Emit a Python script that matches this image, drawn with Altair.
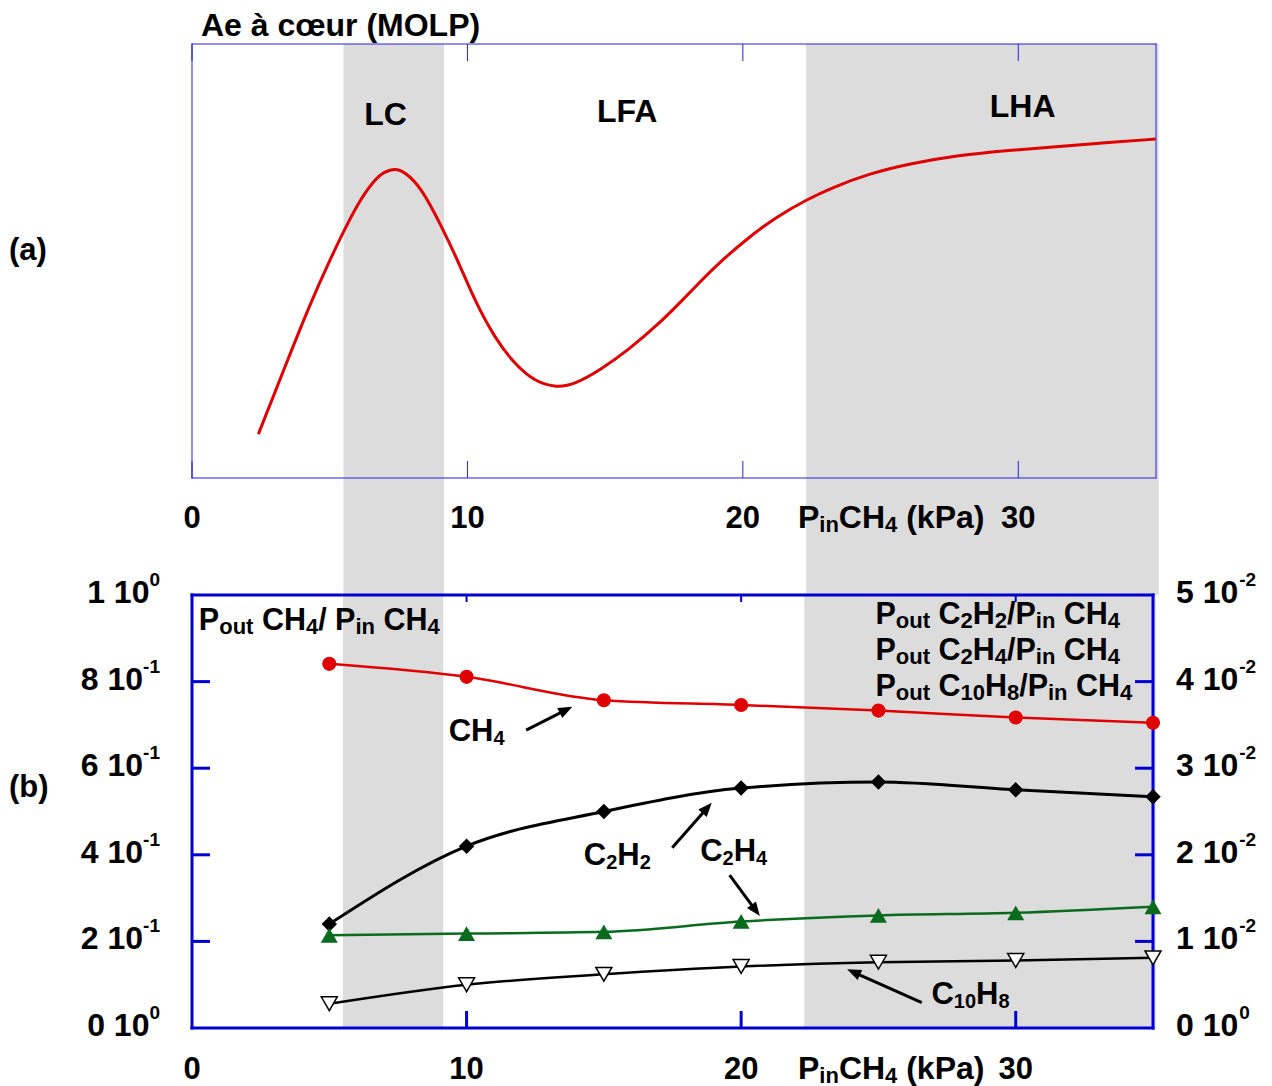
import math
import altair as alt
import pandas as pd

FONT = "Liberation Sans"
RED = "#e00000"
GREEN = "#0a6a1e"
BLUE = "#0000d0"
BLUE_THIN = "#2020e0"
GRAY = "#dcdcdc"

# ---------------- data: panel (a) ----------------
AE_X = [2.41, 3.36, 4.33, 5.05, 5.48, 6.03, 6.63, 6.99, 7.36, 7.72, 8.33, 9.05, 9.66,
        10.27, 10.99, 11.72, 12.45, 13.24, 13.90, 14.87, 15.84, 16.93, 17.78, 18.51,
        19.17, 20.21, 21.17, 22.33, 23.24, 24.57, 26.03, 27.84, 29.66, 31.48, 33.30, 34.99]
AE_Y = [10.1, 25.4, 40.8, 50.8, 56.5, 63.4, 68.8, 70.6, 71.3, 70.6, 66.9, 58.1, 50.0,
        40.8, 32.3, 26.2, 22.2, 20.8, 21.6, 25.1, 29.5, 35.4, 40.8, 45.6,
        49.8, 55.4, 60.0, 64.2, 66.9, 70.1, 72.4, 74.4, 75.5, 76.4, 77.3, 78.1]
BAND_START = [5.5, 22.3]
BAND_END = [9.15, 35.1]
REGION_LABELS = ["LC", "LFA", "LHA"]
REGION_X = [7.03, 15.8, 30.16]
REGION_Y = [81.3, 82.1, 83.2]
TITLE = "Ae à cœur (MOLP)"

# ---------------- data: panel (b) ----------------
P_IN = [5, 10, 15, 20, 25, 30, 35]
CH4 = [0.841, 0.811, 0.757, 0.746, 0.733, 0.717, 0.705]
C2H2 = [0.0120, 0.0210, 0.0250, 0.0277, 0.0284, 0.0275, 0.0267]
C2H4 = [0.0107, 0.0109, 0.0111, 0.0123, 0.0130, 0.0133, 0.0140]
C10H8 = [0.0028, 0.0050, 0.0062, 0.0071, 0.0076, 0.0078, 0.0081]

X_TICKS = [0, 10, 20, 30]
X_TICK_LABELS = ["0", "10", "20", "30"]
LEFT_TICKS = [0.0, 0.2, 0.4, 0.6, 0.8, 1.0]
LEFT_MANT = ["0", "2", "4", "6", "8", "1"]
LEFT_EXP = ["0", "-1", "-1", "-1", "-1", "0"]
RIGHT_TICKS = [0.0, 0.01, 0.02, 0.03, 0.04, 0.05]
RIGHT_MANT = ["0", "1", "2", "3", "4", "5"]
RIGHT_EXP = ["0", "-2", "-2", "-2", "-2", "-2"]

XTITLE_SEGS = [("P", "n"), ("in", "s"), ("CH", "n"), ("4", "s"), (" (kPa)", "n")]
LEFT_LABEL_SEGS = [("P", "n"), ("out", "s"), (" CH", "n"), ("4", "s"), ("/ P", "n"),
                   ("in", "s"), (" CH", "n"), ("4", "s")]
RIGHT_LABEL_SEGS = [
    [("P", "n"), ("out", "s"), (" C", "n"), ("2", "s"), ("H", "n"), ("2", "s"),
     ("/P", "n"), ("in", "s"), (" CH", "n"), ("4", "s")],
    [("P", "n"), ("out", "s"), (" C", "n"), ("2", "s"), ("H", "n"), ("4", "s"),
     ("/P", "n"), ("in", "s"), (" CH", "n"), ("4", "s")],
    [("P", "n"), ("out", "s"), (" C", "n"), ("10", "s"), ("H", "n"), ("8", "s"),
     ("/P", "n"), ("in", "s"), (" CH", "n"), ("4", "s")],
]
RIGHT_LABEL_X = [24.89, 24.89, 24.89]
RIGHT_LABEL_Y = [0.933, 0.850, 0.767]
LEFT_LABEL_X = 0.25
LEFT_LABEL_Y = 0.919

ANNOT_SEGS = [
    [("CH", "n"), ("4", "s")],
    [("C", "n"), ("2", "s"), ("H", "n"), ("2", "s")],
    [("C", "n"), ("2", "s"), ("H", "n"), ("4", "s")],
    [("C", "n"), ("10", "s"), ("H", "n"), ("8", "s")],
]
ANNOT_X = [9.35, 14.27, 18.51, 26.93]
ANNOT_Y = [0.663, 0.376, 0.386, 0.0554]

ARROW_X1 = [12.17, 17.49, 19.58, 26.58]
ARROW_Y1 = [0.688, 0.4164, 0.3533, 0.0584]
ARROW_X2 = [13.85, 18.93, 20.68, 23.86]
ARROW_Y2 = [0.742, 0.5203, 0.2587, 0.1356]

# ---------------- layout ----------------
W_TOP, H_TOP = 964, 434
W_BOT, H_BOT = 961, 433
GAP = 117
ONE = pd.DataFrame({"d": [0]})

CW = {" ": 278, "(": 333, ")": 333, "/": 278, "-": 333, "P": 667, "C": 722, "H": 722,
      "o": 611, "u": 611, "t": 333, "i": 278, "n": 611, "k": 556, "a": 556}
for _d in "0123456789":
    CW[_d] = 556


def tw(s, size):
    return sum(CW[c] for c in s) * size / 1000.0


def rich(df, xenc, yenc, segs, main, sub, sub_dy=4, color="black"):
    layers = []
    off = 0.0
    for text, kind in segs:
        size = main if kind == "n" else sub
        lead = len(text) - len(text.lstrip(" "))
        trail = len(text) - len(text.rstrip(" "))
        off += lead * CW[" "] * size / 1000.0
        t = text.strip(" ")
        layers.append(
            alt.Chart(df).mark_text(
                text=t, align="left", baseline="alphabetic", dx=off,
                dy=(sub_dy if kind == "s" else 0), font=FONT, fontWeight="bold",
                fontSize=size, color=color,
            ).encode(x=xenc, y=yenc)
        )
        off += tw(t, size) + trail * CW[" "] * size / 1000.0
    return layers


def frame(W, H, color, sw):
    encs = [
        dict(x=alt.value(0), y=alt.value(0), y2=alt.value(H)),
        dict(x=alt.value(W), y=alt.value(0), y2=alt.value(H)),
        dict(x=alt.value(0), x2=alt.value(W), y=alt.value(0)),
        dict(x=alt.value(0), x2=alt.value(W), y=alt.value(H)),
    ]
    return [alt.Chart(ONE).mark_rule(color=color, strokeWidth=sw, strokeCap="square").encode(**e)
            for e in encs]


TXT = dict(font=FONT, fontWeight="bold", color="black")

# ---------------- panel (a) ----------------
xs_t = alt.Scale(domain=[0, 35], nice=False, zero=False)
ys_t = alt.Scale(domain=[0, 100], nice=False, zero=False)
XT = lambda f: alt.X(f, scale=xs_t, axis=None)
YT = lambda f: alt.Y(f, scale=ys_t, axis=None)

bands = pd.DataFrame({"x0": BAND_START, "x1": BAND_END})
xt_df = pd.DataFrame({"x": X_TICKS, "lab": X_TICK_LABELS})

tl = []
tl.append(alt.Chart(bands).mark_rect(color=GRAY).encode(
    x=XT("x0:Q"), x2="x1:Q", y=alt.value(0), y2=alt.value(H_TOP + GAP)))
tl += frame(W_TOP, H_TOP, BLUE_THIN, 1)
tl.append(alt.Chart(xt_df).mark_rule(color=BLUE_THIN, strokeWidth=1).encode(
    x=XT("x:Q"), y=alt.value(H_TOP - 17), y2=alt.value(H_TOP)))
tl.append(alt.Chart(xt_df).mark_rule(color=BLUE_THIN, strokeWidth=1).encode(
    x=XT("x:Q"), y=alt.value(0), y2=alt.value(17)))
tl.append(alt.Chart(pd.DataFrame({"x": AE_X, "y": AE_Y})).mark_line(
    color=RED, strokeWidth=3, interpolate="basis").encode(x=XT("x:Q"), y=YT("y:Q")))
tl.append(alt.Chart(pd.DataFrame({"x": REGION_X, "y": REGION_Y, "t": REGION_LABELS})).mark_text(
    fontSize=32, align="center", baseline="alphabetic", **TXT).encode(
    x=XT("x:Q"), y=YT("y:Q"), text="t:N"))
tl.append(alt.Chart(xt_df).mark_text(fontSize=31, align="center", baseline="alphabetic", **TXT).encode(
    x=XT("x:Q"), y=alt.value(H_TOP + 50), text="lab:N"))
tl += rich(pd.DataFrame({"x": [22.0]}), XT("x:Q"), alt.value(H_TOP + 50), XTITLE_SEGS, 32, 22)
tl.append(alt.Chart(ONE).mark_text(text=TITLE, fontSize=32, align="left", baseline="alphabetic", **TXT).encode(
    x=alt.value(9), y=alt.value(-8)))
tl.append(alt.Chart(ONE).mark_text(text="(a)", fontSize=31, align="left", baseline="middle", **TXT).encode(
    x=alt.value(-183), y=alt.value(207)))

top = alt.layer(*tl).properties(width=W_TOP, height=H_TOP)

# ---------------- panel (b) ----------------
xs_b = alt.Scale(domain=[0, 35], nice=False, zero=False)
yl = alt.Scale(domain=[0, 1], nice=False, zero=False)
yr = alt.Scale(domain=[0, 0.05], nice=False, zero=False)
XB = lambda f: alt.X(f, scale=xs_b, axis=None)
YL = lambda f: alt.Y(f, scale=yl, axis=None)
YR = lambda f: alt.Y(f, scale=yr, axis=None)

series = pd.DataFrame({"p": P_IN, "ch4": CH4, "c2h2": C2H2, "c2h4": C2H4, "c10h8": C10H8})

bl = []
bl.append(alt.Chart(bands).mark_rect(color=GRAY).encode(
    x=XB("x0:Q"), x2="x1:Q", y=alt.value(0), y2=alt.value(H_BOT)))
bl += frame(W_BOT, H_BOT, BLUE, 3)
bl.append(alt.Chart(pd.DataFrame({"v": LEFT_TICKS[1:-1]})).mark_rule(color=BLUE, strokeWidth=3).encode(
    x=alt.value(0), x2=alt.value(18), y=YL("v:Q")))
bl.append(alt.Chart(pd.DataFrame({"v": RIGHT_TICKS[1:-1]})).mark_rule(color=BLUE, strokeWidth=3).encode(
    x=alt.value(W_BOT - 18), x2=alt.value(W_BOT), y=YR("v:Q")))
xt_b = pd.DataFrame({"x": X_TICKS[1:]})
bl.append(alt.Chart(xt_b).mark_rule(color=BLUE, strokeWidth=3).encode(
    x=XB("x:Q"), y=alt.value(H_BOT - 17), y2=alt.value(H_BOT)))
bl.append(alt.Chart(xt_b).mark_rule(color=BLUE, strokeWidth=2).encode(
    x=XB("x:Q"), y=alt.value(0), y2=alt.value(7)))

# series lines
bl.append(alt.Chart(series).mark_line(color=RED, strokeWidth=2.5, interpolate="monotone").encode(
    x=XB("p:Q"), y=YL("ch4:Q")))
bl.append(alt.Chart(series).mark_line(color="black", strokeWidth=3, interpolate="monotone").encode(
    x=XB("p:Q"), y=YR("c2h2:Q")))
bl.append(alt.Chart(series).mark_line(color=GREEN, strokeWidth=2.5, interpolate="monotone").encode(
    x=XB("p:Q"), y=YR("c2h4:Q")))
bl.append(alt.Chart(series).mark_line(color="black", strokeWidth=2.5, interpolate="monotone").encode(
    x=XB("p:Q"), y=YR("c10h8:Q")))
# markers
bl.append(alt.Chart(series).mark_point(shape="circle", filled=True, size=200, color=RED, opacity=1).encode(
    x=XB("p:Q"), y=YL("ch4:Q")))
bl.append(alt.Chart(series).mark_point(shape="diamond", filled=True, size=240, color="black", opacity=1).encode(
    x=XB("p:Q"), y=YR("c2h2:Q")))
bl.append(alt.Chart(series).mark_point(shape="triangle-up", filled=True, size=290, color=GREEN, opacity=1).encode(
    x=XB("p:Q"), y=YR("c2h4:Q")))
bl.append(alt.Chart(series).mark_point(shape="triangle-down", filled=True, size=256, fill="white",
                                       stroke="black", strokeWidth=1.5, opacity=1).encode(
    x=XB("p:Q"), y=YR("c10h8:Q")))

# left tick labels
left_df = pd.DataFrame({"v": LEFT_TICKS, "m": [f"{m} 10" for m in LEFT_MANT], "e": LEFT_EXP})
for e in sorted(set(LEFT_EXP)):
    sub = left_df[left_df["e"] == e]
    bl.append(alt.Chart(sub).mark_text(fontSize=32, align="right", baseline="alphabetic", dy=8, **TXT).encode(
        x=alt.value(-32 - tw(e, 19)), y=YL("v:Q"), text="m:N"))
bl.append(alt.Chart(left_df).mark_text(fontSize=19, align="right", baseline="alphabetic", dy=-9, **TXT).encode(
    x=alt.value(-32), y=YL("v:Q"), text="e:N"))
# right tick labels
right_df = pd.DataFrame({"v": RIGHT_TICKS, "m": [f"{m} 10" for m in RIGHT_MANT], "e": RIGHT_EXP})
bl.append(alt.Chart(right_df).mark_text(fontSize=32, align="left", baseline="alphabetic", dy=8, **TXT).encode(
    x=alt.value(W_BOT + 23), y=YR("v:Q"), text="m:N"))
bl.append(alt.Chart(right_df).mark_text(fontSize=19, align="left", baseline="alphabetic", dy=-9, **TXT).encode(
    x=alt.value(W_BOT + 23 + tw("0 10", 32) + 1), y=YR("v:Q"), text="e:N"))
# x tick labels and title
bl.append(alt.Chart(xt_df).mark_text(fontSize=31, align="center", baseline="alphabetic", **TXT).encode(
    x=XB("x:Q"), y=alt.value(H_BOT + 51), text="lab:N"))
bl += rich(pd.DataFrame({"x": [22.07]}), XB("x:Q"), alt.value(H_BOT + 51), XTITLE_SEGS, 32, 22)
bl.append(alt.Chart(ONE).mark_text(text="(b)", fontSize=31, align="left", baseline="middle", **TXT).encode(
    x=alt.value(-183), y=alt.value(193)))

# series titles
bl += rich(pd.DataFrame({"x": [LEFT_LABEL_X], "y": [LEFT_LABEL_Y]}), XB("x:Q"), YL("y:Q"),
           LEFT_LABEL_SEGS, 30.5, 22)
for segs, lx, ly in zip(RIGHT_LABEL_SEGS, RIGHT_LABEL_X, RIGHT_LABEL_Y):
    bl += rich(pd.DataFrame({"x": [lx], "y": [ly]}), XB("x:Q"), YL("y:Q"), segs, 30.5, 22)
for segs, lx, ly in zip(ANNOT_SEGS, ANNOT_X, ANNOT_Y):
    bl += rich(pd.DataFrame({"x": [lx], "y": [ly]}), XB("x:Q"), YL("y:Q"), segs, 31, 20)

# arrows
px_x = W_BOT / 35.0
px_y = H_BOT / 1.0
rows = []
for x1, y1, x2, y2 in zip(ARROW_X1, ARROW_Y1, ARROW_X2, ARROW_Y2):
    dxp = (x2 - x1) * px_x
    dyp = (y2 - y1) * px_y
    L = math.hypot(dxp, dyp)
    k = 8.0 / L
    rows.append({
        "x1": x1, "y1": y1, "x2": x2, "y2": y2,
        "xs": x2 - (x2 - x1) * k, "ys": y2 - (y2 - y1) * k,
        "ang": math.degrees(math.atan2(dxp, dyp)) % 360,
    })
arrows = pd.DataFrame(rows)
bl.append(alt.Chart(arrows).mark_rule(color="black", strokeWidth=3).encode(
    x=XB("x1:Q"), y=YL("y1:Q"), x2="xs:Q", y2="ys:Q"))
bl.append(alt.Chart(arrows).mark_point(shape="M0,0L0.8,2L-0.8,2Z", filled=True, size=196,
                                       color="black", opacity=1).encode(
    x=XB("x2:Q"), y=YL("y2:Q"), angle=alt.Angle("ang:Q", scale=None)))

bottom = alt.layer(*bl).resolve_scale(y="independent").properties(width=W_BOT, height=H_BOT)

chart = alt.vconcat(top, bottom, spacing=GAP, bounds="flush",
                    padding={"left": 0, "top": 1, "right": 0, "bottom": 0}).configure_view(
    stroke="transparent")

chart.save("out.html", embed_options={"renderer": "svg", "actions": False})
